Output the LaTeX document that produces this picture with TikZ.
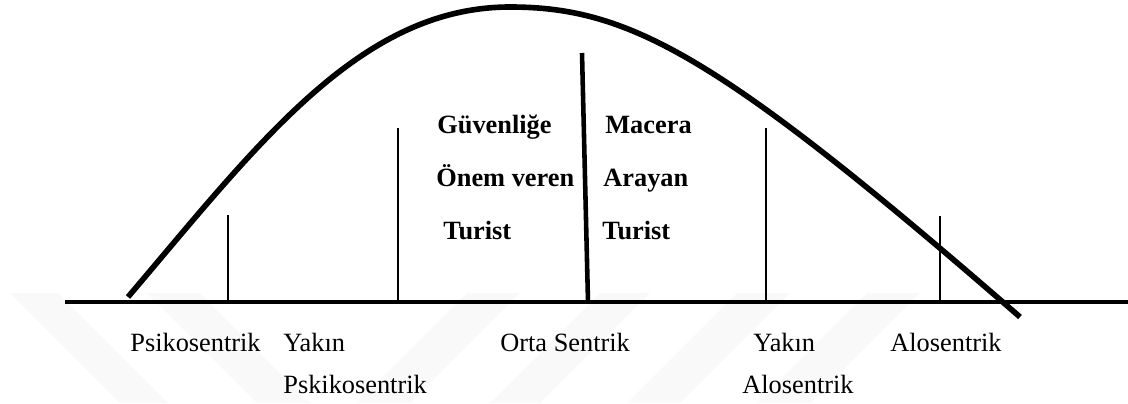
\documentclass[tikz,border=0pt]{standalone}
\usepackage{fontspec}
\setmainfont{Liberation Serif}
\begin{document}
\begin{tikzpicture}[x=0.02cm, y=-0.02cm,
		curve/.style={line width=3.2pt},
		tick/.style={line width=1.6pt},
		lbl/.style={anchor=base west, inner sep=0pt, font=\fontsize{15}{18}\selectfont},
		blbl/.style={anchor=base west, inner sep=0pt, font=\fontsize{15}{18}\selectfont\bfseries},
		wmark/.style={fill=gray!5, draw=none}]
		\useasboundingbox (0, 0) rectangle (1128, 403);
		
		% faint watermark bands
		\fill[wmark] (10, 293) -- (58, 293) -- (168, 403) -- (120, 403) -- cycle;
		\fill[wmark] (147, 293) -- (200, 293) -- (310, 403) -- (257, 403) -- cycle;
		\fill[wmark] (467, 293) -- (520, 293) -- (410, 403) -- (357, 403) -- cycle;
		\fill[wmark] (600, 293) -- (650, 293) -- (540, 403) -- (490, 403) -- cycle;
		\fill[wmark] (737, 293) -- (790, 293) -- (680, 403) -- (627, 403) -- cycle;
		\fill[wmark] (867, 293) -- (920, 293) -- (810, 403) -- (757, 403) -- cycle;
		
		% axis and ticks
		\draw[line width=1.9pt] (65, 302) -- (1128, 302);
		\draw[tick] (228, 302) -- (228, 215);
		\draw[tick] (398, 302) -- (398, 128);
		\draw[line width=2.6pt] (588, 302) -- (582, 53);
		\draw[tick] (766, 302) -- (766, 128);
		\draw[tick] (940, 302) -- (940, 216);
		
		% the curve
		\draw[curve] (128, 297) .. controls (258, 144) and (360, 7) .. (510, 7)
			.. controls (630, 7) and (720, 56) .. (1020, 317);
		
		\node[blbl] (g1) at (437, 133) {Güvenliğe};
		\node[blbl] (g2) at (436, 186) {Önem veren};
		\node[blbl] (g3) at (443, 239) {Turist};
		\node[blbl] (m1) at (605, 133) {Macera};
		\node[blbl] (m2) at (603, 186) {Arayan};
		\node[blbl] (m3) at (602, 239) {Turist};
		
		\node[lbl] (psi) at (130, 351) {Psikosentrik};
		\node[lbl] (ypsi) at (283, 351) {Yakın};
		\node[lbl] (ypsi2) at (283, 393) {Pskikosentrik};
		\node[lbl] (orta) at (500, 351) {Orta Sentrik};
		\node[lbl] (yalo) at (753, 351) {Yakın};
		\node[lbl] (yalo2) at (742, 393) {Alosentrik};
		\node[lbl] (alo) at (890, 351) {Alosentrik};
	\end{tikzpicture}
\end{document}
